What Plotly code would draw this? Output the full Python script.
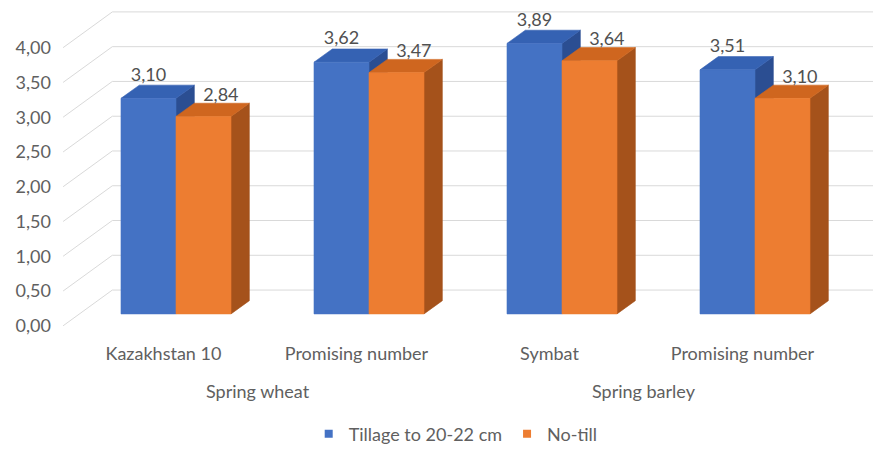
import plotly.graph_objects as go

# ---- data ----
categories = ["Kazakhstan 10", "Promising number", "Symbat", "Promising number"]
groups = ["Spring wheat", "Spring barley"]
group_members = [[0, 1], [2, 3]]
series_names = ["Tillage to 20-22 cm", "No-till"]
tillage = [3.10, 3.62, 3.89, 3.51]
no_till = [2.84, 3.47, 3.64, 3.10]
y_ticks = [0, 0.5, 1, 1.5, 2, 2.5, 3, 3.5, 4]
y_tick_labels = ["0,00", "0,50", "1,00", "1,50", "2,00", "2,50", "3,00", "3,50", "4,00"]

# ---- style / geometry (3D look) ----
W = 0.285        # bar width (category units)
DX = 0.095       # depth offset x
DZ = 0.19        # depth offset y (value units)
BACK = 0.343     # back wall shift of gridlines
FRONT = -0.171   # front shift of tick labels
WALL_X = -0.33   # back wall left edge
DIAG_X = -0.585  # start of side-wall diagonals
RIGHT_X = 3.62
FONT = "Lato"
TXT = "#606060"
GRID = "#d9d9d9"

colors = {
    0: dict(front="#4472C4", top="#3562B3", side="#2B4E92"),
    1: dict(front="#ED7D31", top="#CF661F", side="#A5521B"),
}

fig = go.Figure()

# back-wall gridlines and side-wall diagonals
gx, gy = [], []
for v in y_ticks:
    gx += [DIAG_X, WALL_X, RIGHT_X, None]
    gy += [v + FRONT, v + BACK, v + BACK, None]
fig.add_trace(go.Scatter(x=gx, y=gy, mode="lines", line=dict(color=GRID, width=1),
                         hoverinfo="skip", showlegend=False))


def poly(pts_list):
    xs, ys = [], []
    for pts in pts_list:
        for (a, b) in pts:
            xs.append(a)
            ys.append(b)
        xs.append(pts[0][0]); ys.append(pts[0][1])
        xs.append(None); ys.append(None)
    return xs, ys


for s, vals in enumerate([tillage, no_till]):
    fronts, tops, sides = [], [], []
    for i, v in enumerate(vals):
        L = i - W if s == 0 else i
        R = L + W
        fronts.append([(L, 0), (R, 0), (R, v), (L, v)])
        tops.append([(L, v), (R, v), (R + DX, v + DZ), (L + DX, v + DZ)])
        sides.append([(R, 0), (R + DX, DZ), (R + DX, v + DZ), (R, v)])
    for face in ["side", "top", "front"]:
        pts = {"side": sides, "top": tops, "front": fronts}[face]
        xs, ys = poly(pts)
        c = colors[s][face]
        fig.add_trace(go.Scatter(x=xs, y=ys, mode="lines", fill="toself", fillcolor=c,
                                 line=dict(color=c, width=0.6), hoverinfo="skip",
                                 showlegend=False))

# data labels
lx, ly, lt = [], [], []
for i, v in enumerate(tillage):
    lx.append(i - W / 2); ly.append(v + DZ + 0.13); lt.append(f"{v:.2f}".replace(".", ","))
for i, v in enumerate(no_till):
    lx.append(i + W / 2 + 0.09); ly.append(v + DZ + 0.10); lt.append(f"{v:.2f}".replace(".", ","))
fig.add_trace(go.Scatter(x=lx, y=ly, text=lt, mode="text", textposition="middle center",
                         textfont=dict(family=FONT, size=18, color="#505050"),
                         hoverinfo="skip", showlegend=False))

# legend entries
for s, name in enumerate(series_names):
    fig.add_trace(go.Scatter(x=[None], y=[None], mode="markers", name=name,
                             marker=dict(symbol="square", size=8, color=colors[s]["front"])))

# group labels
for g, members in zip(groups, group_members):
    xc = sum(members) / len(members) - 0.075
    fig.add_annotation(x=xc, xref="x", y=1 - 394 / 453, yref="paper", text=g,
                       showarrow=False, font=dict(family=FONT, size=18, color=TXT),
                       xanchor="center", yanchor="middle")

x0 = (52 - 176) / 193
x1 = (873 - 176) / 193
fig.update_layout(
    width=873, height=453,
    margin=dict(l=0, r=0, t=0, b=0),
    paper_bgcolor="white", plot_bgcolor="white",
    font=dict(family=FONT, size=18, color=TXT),
    xaxis=dict(domain=[52 / 873, 1], range=[x0, x1], showgrid=False, zeroline=False,
               showline=False, ticks="", tickvals=[i - 0.065 for i in range(len(categories))],
               ticktext=categories, tickfont=dict(family=FONT, size=18, color=TXT),
               automargin=False, ticklabelstandoff=3),
    yaxis=dict(domain=[1 - 340 / 453, 1], range=[-(340 - 316) / 70, 316 / 70], showgrid=False,
               zeroline=False, showline=False, ticks="",
               tickvals=[v + FRONT for v in y_ticks], ticktext=y_tick_labels,
               tickfont=dict(family=FONT, size=18, color=TXT), automargin=False),
    showlegend=True,
    legend=dict(orientation="h", x=0.522, xanchor="center", y=1 - 437 / 453, yanchor="middle",
                font=dict(family=FONT, size=18, color=TXT), itemwidth=30,
                bgcolor="rgba(0,0,0,0)"),
)

fig.write_html("out.html")
